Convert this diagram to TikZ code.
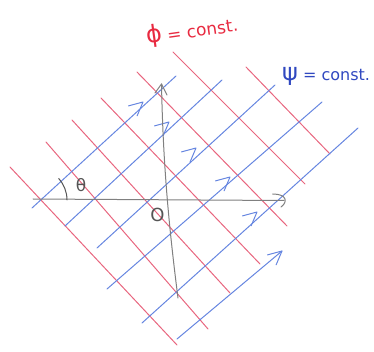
\documentclass[tikz,border=0pt]{standalone}
\usepackage{fontspec}
\newfontfamily\hand{DejaVu Sans}
\definecolor{redline}{HTML}{E8667F}
\definecolor{blueline}{HTML}{6686E0}
\definecolor{redtext}{HTML}{E82A40}
\definecolor{bluetext}{HTML}{3048C0}
\definecolor{axisgray}{HTML}{808080}
\definecolor{inkgray}{HTML}{555555}
\begin{document}
\begin{tikzpicture}[x=1pt,y=-1pt,
  redpen/.style={draw=redline,line width=1pt,line cap=round},
  bluepen/.style={draw=blueline,line width=1pt,line cap=round,line join=round},
  axispen/.style={draw=axisgray,line width=1pt,line cap=round,line join=round},
  inkpen/.style={draw=inkgray,line width=1pt,line cap=round},
  chev/.pic={\draw[bluepen] (195:15pt) -- (0,0) -- (247:15pt);},
  lbl/.style={inner sep=0pt,font=\hand\fontsize{17}{20}\selectfont}]
\useasboundingbox (0,0) rectangle (374,352);
% red lines: phi = const.
\foreach \xa/\ya/\xb/\yb in {246/67/330/154, 173/52/305/184, 137/72/287/226,
    101/98/260/264, 72/120/230/293, 46/142/208/329, 10/167/177/345}
  \draw[redpen] (\xa,\ya) -- (\xb,\yb);
% blue lines: psi = const.
\foreach \xa/\ya/\xb/\yb in {32/208/176/76, 65/226/222/80, 97/248/275/85,
    107/289/322/102, 142/323/358/128, 177/339/282/251}
  \draw[bluepen] (\xa,\ya) -- (\xb,\yb);
% arrows on blue lines
\pic at (143,102) {chev};
\pic at (169,122) {chev};
\pic at (196,148) {chev};
\pic at (230,177) {chev};
\pic at (257,212) {chev};
\pic at (282,251) {chev};
% axes
\draw[axispen] (33,199) -- (284,200.5);
\draw[axispen] (272.7,194) .. controls (287,194) and (288,202) .. (281,207);
\draw[axispen] (161.5,84) .. controls (163,160) and (168,220) .. (178,298);
\draw[axispen] (155,93) -- (161.5,84) -- (167,95);
% angle
\draw[inkpen] (67,200) arc[start angle=0,end angle=42,radius=32pt];
\node[lbl,text=inkgray] (theta) at (81,185) {θ};
\node[lbl,text=inkgray,font=\hand\fontsize{18}{20}\selectfont] (origin) at (157.5,215) {O};
% labels
\node[lbl,text=redtext,rotate=8,anchor=base west] (philbl) at (147,44) {{\fontsize{24}{26}\selectfont ϕ} = const.};
\node[lbl,text=bluetext,anchor=base west,font=\hand\fontsize{16}{20}\selectfont] (psilbl) at (282,81) {{\fontsize{24}{26}\selectfont ψ} = const.};
\end{tikzpicture}
\end{document}
